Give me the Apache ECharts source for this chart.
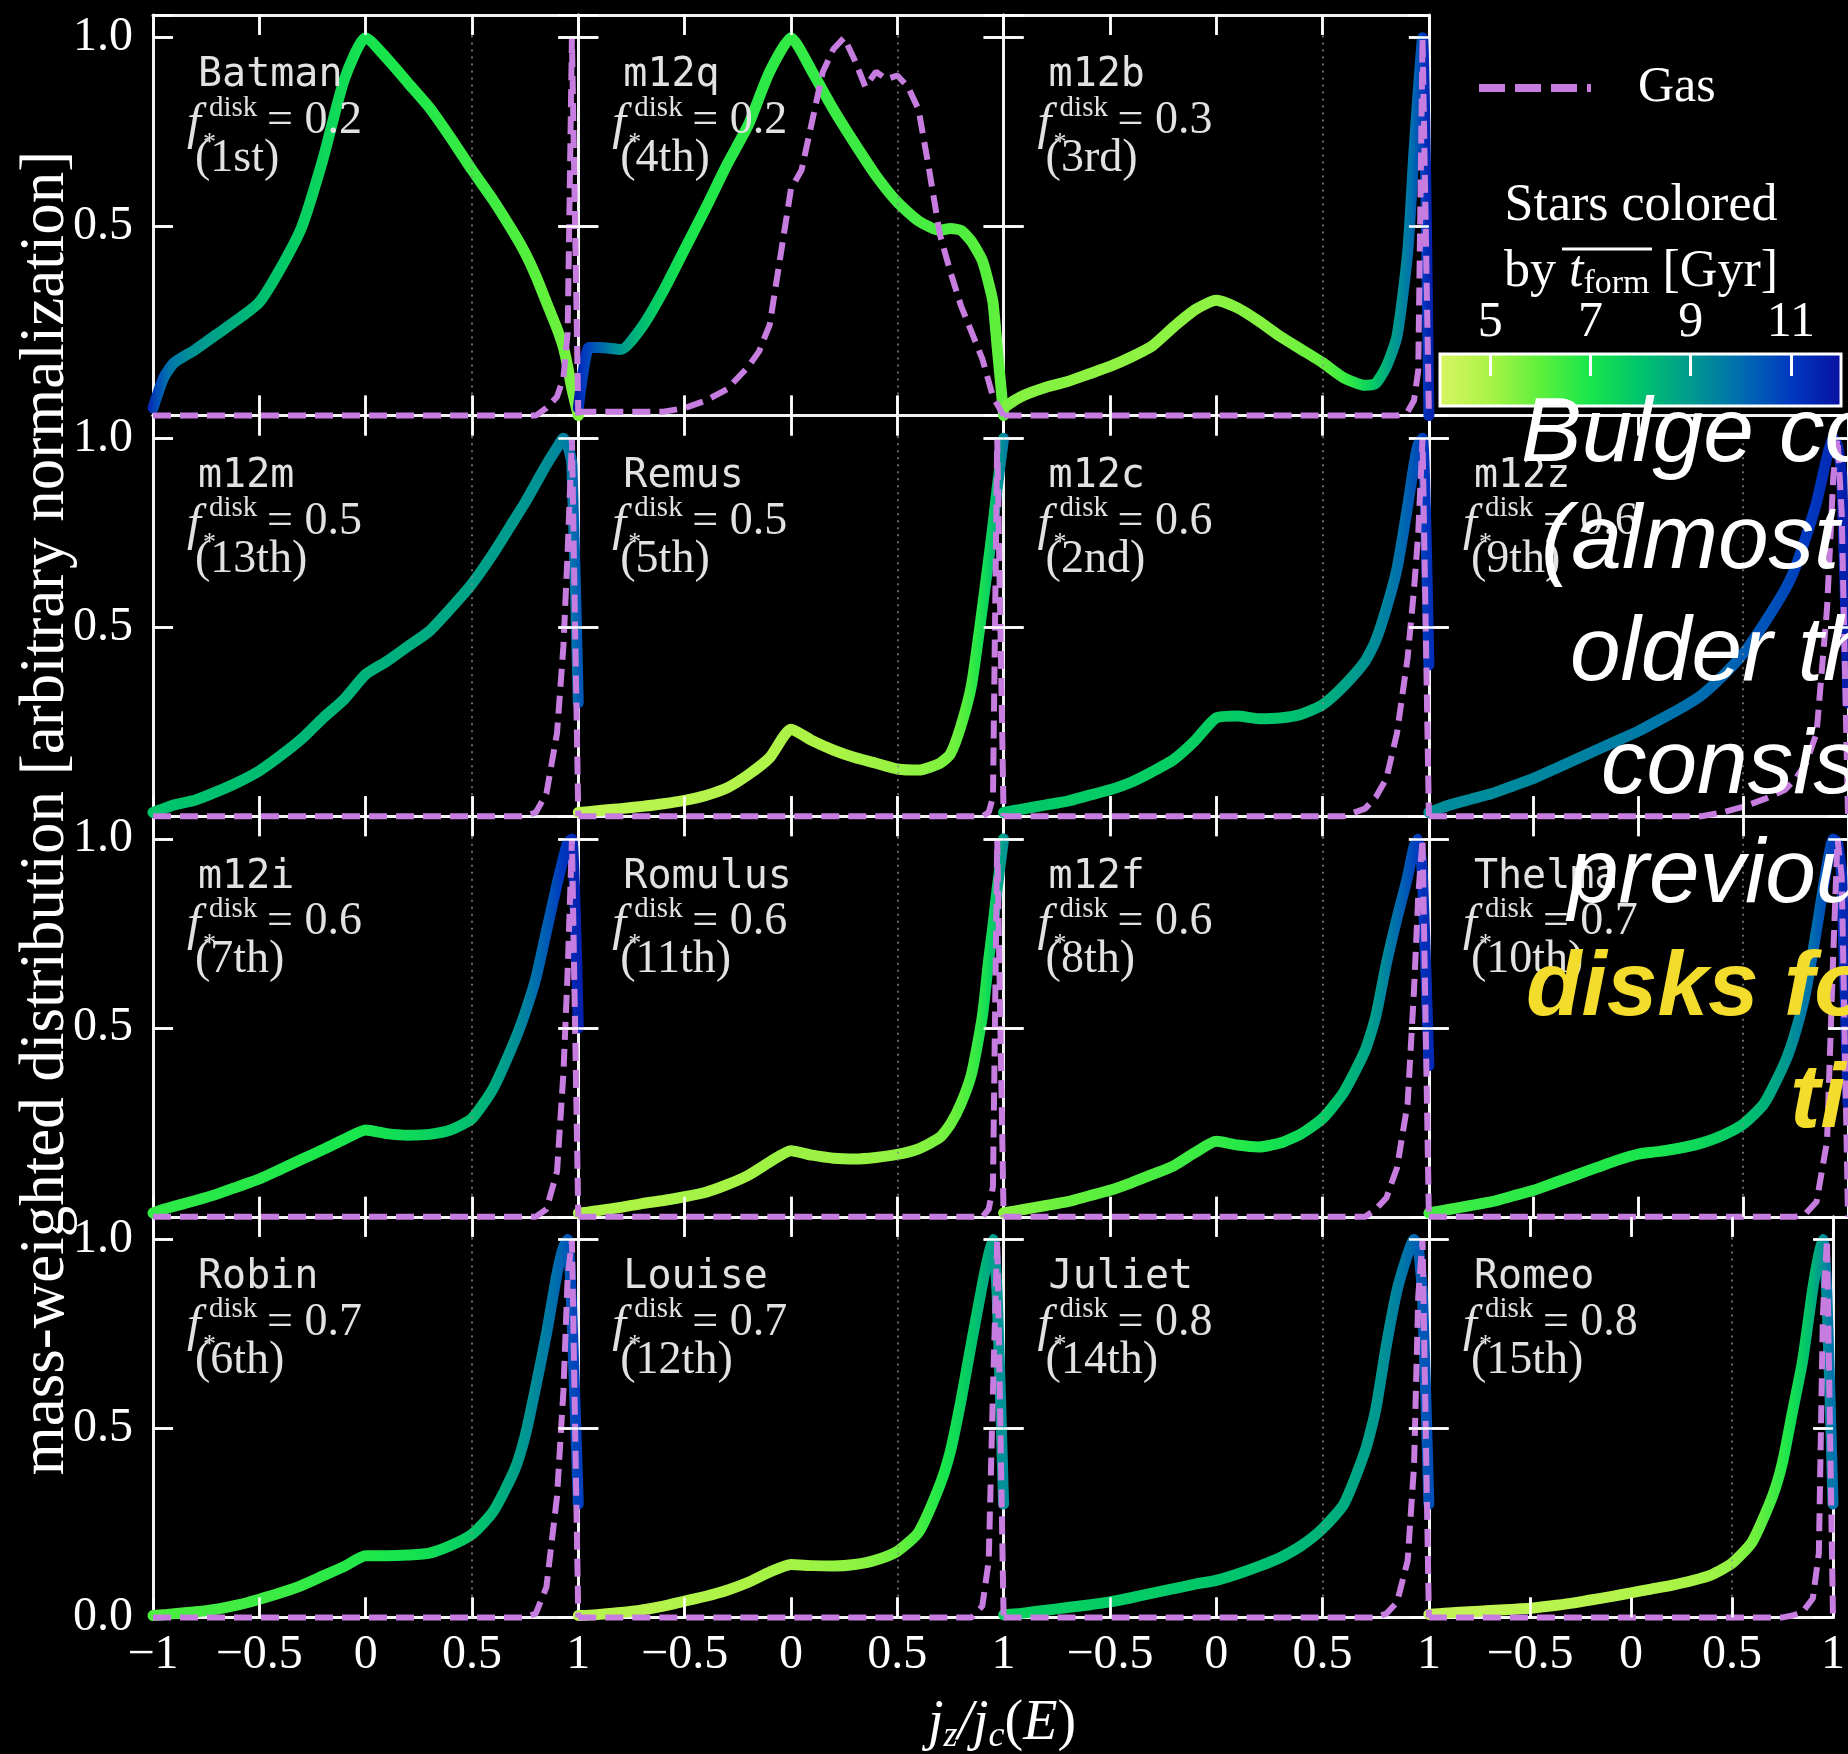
<!DOCTYPE html>
<html><head><meta charset="utf-8">
<script src="https://cdn.jsdelivr.net/npm/echarts@6/dist/echarts.min.js"></script>
<style>html,body{margin:0;padding:0;background:#000;overflow:hidden}#c{width:1848px;height:1754px}</style>
</head><body><div id="c"></div>
<script>
// ---------------- data ----------------
const jz = [-1, -0.95, -0.9, -0.8, -0.7, -0.6, -0.5, -0.4, -0.3, -0.2, -0.1, 0, 0.1, 0.2, 0.3, 0.4, 0.5, 0.6, 0.7, 0.75, 0.8, 0.85, 0.9, 0.93, 0.95, 0.97, 1.0];
const galaxyNames = ['Batman','m12q','m12b','m12m','Remus','m12c','m12z','m12i','Romulus','m12f','Thelma','Robin','Louise','Juliet','Romeo'];
const diskFractions = ['0.2','0.2','0.3','0.5','0.5','0.6','0.6','0.6','0.6','0.6','0.7','0.7','0.7','0.8','0.8'];
const diskRanks = ['1st','4th','3rd','13th','5th','2nd','9th','7th','11th','8th','10th','6th','12th','14th','15th'];

const starsBatman  = [0.02,0.10,0.14,0.175,0.215,0.255,0.30,0.39,0.50,0.68,0.89,1.0,0.945,0.88,0.815,0.735,0.65,0.57,0.48,0.43,0.37,0.30,0.23,0.18,0.13,0.07,0.0];
const starsM12q    = [0.02,0.18,0.18,0.175,0.235,0.33,0.44,0.55,0.665,0.77,0.91,1.0,0.91,0.81,0.72,0.635,0.565,0.515,0.49,0.495,0.49,0.46,0.41,0.35,0.30,0.18,0.0];
const starsM12b    = [0.02,0.04,0.055,0.075,0.09,0.11,0.13,0.155,0.185,0.235,0.28,0.305,0.285,0.25,0.21,0.175,0.14,0.10,0.08,0.085,0.13,0.21,0.43,0.70,0.86,1.0,0.0];
const starsM12m    = [0.01,0.02,0.03,0.043,0.065,0.09,0.12,0.16,0.205,0.26,0.31,0.375,0.41,0.45,0.49,0.55,0.615,0.695,0.785,0.83,0.88,0.93,0.975,1.0,0.98,0.93,0.3];
const starsRemus   = [0.01,0.012,0.015,0.02,0.026,0.033,0.042,0.055,0.075,0.11,0.155,0.23,0.20,0.175,0.155,0.14,0.125,0.122,0.14,0.165,0.24,0.35,0.55,0.68,0.77,0.87,1.0];
const starsM12c    = [0.01,0.015,0.02,0.03,0.04,0.055,0.07,0.09,0.118,0.15,0.20,0.26,0.265,0.258,0.26,0.27,0.295,0.345,0.41,0.465,0.55,0.655,0.82,0.93,0.985,1.0,0.4];
const starsM12z    = [0.01,0.02,0.03,0.045,0.06,0.08,0.10,0.125,0.15,0.175,0.20,0.225,0.255,0.285,0.32,0.37,0.43,0.51,0.60,0.66,0.74,0.83,0.95,1.0,0.98,0.9,0.3];
const starsM12i    = [0.01,0.02,0.028,0.043,0.06,0.08,0.10,0.126,0.152,0.178,0.205,0.23,0.22,0.216,0.218,0.23,0.26,0.34,0.465,0.54,0.63,0.755,0.88,0.95,0.99,1.0,0.5];
const starsRomulus = [0.01,0.013,0.017,0.025,0.035,0.043,0.053,0.065,0.085,0.11,0.145,0.175,0.163,0.155,0.153,0.157,0.165,0.18,0.21,0.245,0.30,0.38,0.53,0.68,0.77,0.87,1.0];
const starsM12f    = [0.01,0.015,0.02,0.03,0.04,0.055,0.07,0.09,0.112,0.135,0.17,0.20,0.19,0.185,0.195,0.22,0.26,0.33,0.44,0.53,0.67,0.79,0.90,0.98,1.0,0.9,0.4];
const starsThelma  = [0.01,0.015,0.02,0.03,0.04,0.055,0.07,0.09,0.11,0.13,0.15,0.166,0.173,0.182,0.195,0.215,0.245,0.30,0.41,0.49,0.60,0.76,0.93,1.0,0.99,0.9,0.3];
const starsRobin   = [0.005,0.007,0.01,0.015,0.022,0.033,0.048,0.065,0.085,0.11,0.135,0.163,0.163,0.165,0.17,0.19,0.22,0.28,0.39,0.48,0.61,0.75,0.91,0.98,1.0,0.8,0.3];
const starsLouise  = [0.005,0.006,0.008,0.013,0.02,0.03,0.043,0.056,0.072,0.093,0.12,0.14,0.137,0.136,0.14,0.152,0.175,0.225,0.35,0.44,0.575,0.73,0.88,0.96,1.0,0.85,0.3];
const starsJuliet  = [0.007,0.009,0.012,0.019,0.026,0.033,0.041,0.052,0.064,0.076,0.088,0.098,0.115,0.135,0.158,0.19,0.235,0.30,0.44,0.55,0.72,0.865,0.96,1.0,0.98,0.85,0.3];
const starsRomeo   = [0.008,0.01,0.012,0.015,0.018,0.021,0.024,0.03,0.037,0.046,0.055,0.065,0.075,0.085,0.097,0.113,0.143,0.20,0.32,0.41,0.545,0.68,0.87,0.96,1.0,0.85,0.3];

// mean stellar formation time [Gyr] along each curve
const tformBatman  = [11.5,10.5,9.8,9.2,8.8,8.5,8.2,7.9,7.7,7.5,7.3,7.1,7.0,6.9,6.8,6.6,6.5,6.4,6.2,6.1,6.0,5.9,5.8,5.7,5.6,5.5,5.5];
const tformM12q    = [11.8,11.0,10.4,9.2,8.3,7.6,7.1,6.9,6.8,6.7,6.7,6.6,6.6,6.5,6.5,6.4,6.4,6.3,6.3,6.2,6.2,6.1,6.1,6.0,6.0,6.0,6.0];
const tformM12b    = [5.6,5.6,5.5,5.5,5.5,5.4,5.4,5.4,5.4,5.4,5.4,5.4,5.5,5.5,5.6,5.8,6.0,6.6,7.6,8.2,8.8,9.4,10.0,10.6,11.0,11.4,11.6];
const tformM12m    = [7.9,7.9,8.0,8.0,8.1,8.1,8.2,8.2,8.3,8.3,8.4,8.4,8.5,8.5,8.6,8.7,8.8,8.9,9.0,9.1,9.2,9.3,9.5,9.7,9.9,10.2,10.5];
const tformRemus   = [4.6,4.6,4.6,4.7,4.7,4.7,4.8,4.8,4.8,4.9,4.9,5.0,5.0,5.0,5.1,5.2,5.3,5.4,5.6,5.8,6.2,6.8,7.5,8.2,8.8,9.3,9.8];
const tformM12c    = [8.0,8.0,7.9,7.9,7.8,7.8,7.8,7.8,7.7,7.7,7.7,7.7,7.8,7.9,8.0,8.2,8.5,8.8,9.2,9.4,9.7,10.0,10.4,10.7,10.9,11.1,11.3];
const tformM12z    = [9.2,9.2,9.3,9.3,9.3,9.4,9.4,9.5,9.5,9.6,9.6,9.7,9.8,9.9,10.0,10.1,10.3,10.5,10.7,10.9,11.0,11.2,11.4,11.5,11.6,11.7,11.8];
const tformM12i    = [6.6,6.6,6.7,6.7,6.8,6.8,6.8,6.9,6.9,7.0,7.0,7.0,7.2,7.4,7.6,7.9,8.2,8.7,9.3,9.7,10.1,10.5,11.0,11.2,11.4,11.5,11.6];
const tformRomulus = [5.0,5.0,5.0,5.0,5.0,5.0,5.1,5.1,5.1,5.1,5.2,5.2,5.2,5.2,5.3,5.3,5.4,5.5,5.7,5.9,6.2,6.6,7.3,7.9,8.4,8.9,9.3];
const tformM12f    = [5.4,5.5,5.6,5.7,5.9,6.0,6.1,6.2,6.3,6.4,6.5,6.6,6.8,7.0,7.2,7.5,7.8,8.3,8.8,9.2,9.7,10.2,10.7,11.0,11.2,11.3,11.4];
const tformThelma  = [6.3,6.4,6.4,6.5,6.6,6.7,6.7,6.8,6.8,6.9,6.9,7.0,7.1,7.3,7.5,7.7,8.0,8.5,9.1,9.5,9.9,10.4,10.9,11.2,11.4,11.5,11.6];
const tformRobin   = [6.2,6.2,6.3,6.3,6.4,6.4,6.5,6.5,6.6,6.7,6.8,6.9,7.0,7.1,7.3,7.6,7.9,8.4,8.9,9.2,9.5,9.8,10.2,10.5,10.7,10.8,10.9];
const tformLouise  = [4.7,4.7,4.7,4.8,4.8,4.8,4.9,4.9,5.0,5.0,5.1,5.1,5.2,5.3,5.4,5.6,5.9,6.4,7.0,7.3,7.7,8.1,8.6,8.9,9.1,9.2,9.3];
const tformJuliet  = [7.6,7.6,7.6,7.7,7.7,7.7,7.8,7.8,7.8,7.9,7.9,8.0,8.0,8.1,8.2,8.3,8.4,8.6,8.9,9.1,9.4,9.7,10.1,10.3,10.4,10.5,10.6];
const tformRomeo   = [4.4,4.4,4.5,4.5,4.5,4.6,4.6,4.7,4.7,4.8,4.8,4.9,4.9,5.0,5.1,5.2,5.4,5.8,6.5,6.9,7.4,8.0,8.8,9.3,9.6,9.8,10.0];

const gasBatman  = [0,0,0,0,0,0,0,0,0,0,0,0,0,0,0,0,0,0,0,0,0,0.02,0.05,0.1,0.22,1.0,0];
const gasJzM12q  = [-1,-0.6,-0.5,-0.4,-0.3,-0.2,-0.15,-0.1,-0.05,0,0.05,0.1,0.15,0.2,0.25,0.3,0.35,0.4,0.45,0.5,0.55,0.6,0.65,0.7,0.75,0.8,0.85,0.9,0.95,1.0];
const gasM12q    = [0.01,0.01,0.02,0.04,0.07,0.13,0.17,0.24,0.42,0.60,0.65,0.78,0.91,0.97,1.0,0.94,0.87,0.91,0.89,0.90,0.87,0.81,0.65,0.48,0.38,0.29,0.22,0.15,0.05,0.0];
const gasM12b    = [0,0,0,0,0,0,0,0,0,0,0,0,0,0,0,0,0,0,0,0,0,0,0.01,0.04,0.12,1.0,0];
const gasM12m    = [0,0,0,0,0,0,0,0,0,0,0,0,0,0,0,0,0,0,0,0,0.01,0.06,0.22,0.45,0.7,1.0,0];
const gasRemus   = [0,0,0,0,0,0,0,0,0,0,0,0,0,0,0,0,0,0,0,0,0,0,0,0.01,0.05,1.0,0];
const gasM12c    = [0,0,0,0,0,0,0,0,0,0,0,0,0,0,0,0,0,0,0.02,0.05,0.10,0.22,0.42,0.6,0.75,1.0,0];
const gasM12z    = [0,0,0,0,0,0,0,0,0,0,0,0,0,0,0,0.01,0.025,0.045,0.07,0.1,0.14,0.22,0.55,0.9,1.0,0.8,0];
const gasM12i    = [0,0,0,0,0,0,0,0,0,0,0,0,0,0,0,0,0,0,0,0,0,0.02,0.12,0.38,0.65,1.0,0];
const gasRomulus = [0,0,0,0,0,0,0,0,0,0,0,0,0,0,0,0,0,0,0,0,0,0,0,0.02,0.08,1.0,0];
const gasM12f    = [0,0,0,0,0,0,0,0,0,0,0,0,0,0,0,0,0,0,0,0.02,0.05,0.13,0.30,0.6,0.85,1.0,0];
const gasThelma  = [0,0,0,0,0,0,0,0,0,0,0,0,0,0,0,0,0,0,0,0,0.01,0.04,0.2,0.7,1.0,0.9,0];
const gasRobin   = [0,0,0,0,0,0,0,0,0,0,0,0,0,0,0,0,0,0,0,0,0.01,0.08,0.32,0.6,0.9,1.0,0];
const gasLouise  = [0,0,0,0,0,0,0,0,0,0,0,0,0,0,0,0,0,0,0,0,0,0,0.03,0.15,0.6,1.0,0];
const gasJuliet  = [0,0,0,0,0,0,0,0,0,0,0,0,0,0,0,0,0,0,0,0,0.01,0.04,0.15,0.4,0.85,1.0,0];
const gasRomeo   = [0,0,0,0,0,0,0,0,0,0,0,0,0,0,0,0,0,0,0,0,0.005,0.015,0.05,0.17,0.8,1.0,0];

const xTickValues = [-1, -0.5, 0, 0.5, 1];
const yTickValues = [0, 0.5, 1.0];
const xInnerTicks = [-0.5, 0, 0.5];
const yInnerTicks = [0.5, 1.0];
const colorbarRange = [4, 12];
const colorbarTicks = [5, 7, 9, 11];

// ---------------- styling / layout ----------------
const cmapStops = [[4,'#d8f562'],[5,'#acf346'],[6,'#5ef03c'],[7,'#18e64c'],[8,'#00c46c'],[9,'#009a90'],[10,'#006cb0'],[11,'#0038c0'],[12,'#0a10a0']];
function hexRgb(h){return [parseInt(h.slice(1,3),16),parseInt(h.slice(3,5),16),parseInt(h.slice(5,7),16)];}
function cmap(t){
  t = Math.max(cmapStops[0][0], Math.min(cmapStops[cmapStops.length-1][0], t));
  for (let k=0;k<cmapStops.length-1;k++){
    const [a,ca]=cmapStops[k],[b,cb]=cmapStops[k+1];
    if (t<=b){const f=(t-a)/(b-a);const A=hexRgb(ca),B=hexRgb(cb);
      return 'rgb('+A.map((v,i)=>Math.round(v+(B[i]-v)*f)).join(',')+')';}
  }
  return cmapStops[cmapStops.length-1][1];
}

const starsList = [starsBatman,starsM12q,starsM12b,starsM12m,starsRemus,starsM12c,starsM12z,starsM12i,starsRomulus,starsM12f,starsThelma,starsRobin,starsLouise,starsJuliet,starsRomeo];
const tformList = [tformBatman,tformM12q,tformM12b,tformM12m,tformRemus,tformM12c,tformM12z,tformM12i,tformRomulus,tformM12f,tformThelma,tformRobin,tformLouise,tformJuliet,tformRomeo];
const gasList = [gasBatman,gasM12q,gasM12b,gasM12m,gasRemus,gasM12c,gasM12z,gasM12i,gasRomulus,gasM12f,gasThelma,gasRobin,gasLouise,gasJuliet,gasRomeo];

const L0=153, T0=15, CW=425.3, CH=400.6;
const Y_MAX = 1.06;
const TICK_PX = 20;
const tickDy = TICK_PX/CH*Y_MAX, tickDx = TICK_PX/CW*2;   // tick length in data units
const SERIF='"Liberation Serif", "DejaVu Serif", serif';
const GAS_COLOR='#c77ddf';
const FRAME='#f2f2f2';
const tickFont = 48;
function fmtX(v){ if (v<0) return '\u2212'+String(Math.abs(v)); return String(v); }
function mkTick(){ return {show:true, inside:true, length:TICK_PX, lineStyle:{color:'#ffffff', width:2.5}}; }
function mkLine(){ return {show:true, onZero:false, lineStyle:{color:FRAME, width:3}}; }

// frame ticks drawn as short marker segments in data coordinates
const tickStyle = {type:'solid', color:'#ffffff', width:2.5};
function frameTicks(){
  const segs = [];
  xInnerTicks.forEach(x=>{
    segs.push([{coord:[x,0], lineStyle:tickStyle},{coord:[x,tickDy]}]);
    segs.push([{coord:[x,Y_MAX], lineStyle:tickStyle},{coord:[x,Y_MAX-tickDy]}]);
  });
  yInnerTicks.forEach(y=>{
    segs.push([{coord:[-1,y], lineStyle:tickStyle},{coord:[-1+tickDx,y]}]);
    segs.push([{coord:[1,y], lineStyle:tickStyle},{coord:[1-tickDx,y]}]);
  });
  return segs;
}

const grids=[], xAxes=[], yAxes=[], series=[], graphics=[];
galaxyNames.forEach((name,i)=>{
  const idx = i<3 ? i : i+1;           // first row has 3 panels
  const row = Math.floor(idx/4), col = idx%4;
  const L = L0+col*CW, T = T0+row*CH;
  grids.push({left:L, top:T, width:CW, height:CH, show:false});
  const lblStyle = {color:'#ffffff', fontFamily:SERIF, fontSize:tickFont};
  xAxes.push({gridIndex:i, type:'value', min:-1, max:1, interval:0.5, position:'bottom',
    axisLine:mkLine(), splitLine:{show:false}, axisTick:mkTick(),
    axisLabel: row===3 ? Object.assign({show:true, margin:14, formatter:fmtX, hideOverlap:false,
        customValues: col===0 ? xTickValues : xTickValues.slice(1)}, lblStyle) : {show:false}});
  xAxes.push({gridIndex:i, type:'value', min:-1, max:1, interval:0.5, position:'top',
    axisLine:mkLine(), splitLine:{show:false}, axisTick:mkTick(), axisLabel:{show:false}});
  yAxes.push({gridIndex:i, type:'value', min:0, max:Y_MAX, interval:0.5, position:'left',
    axisLine:mkLine(), splitLine:{show:false}, axisTick:mkTick(),
    axisLabel: col===0 ? Object.assign({show:true, margin:20, hideOverlap:false, formatter:v=>v.toFixed(1),
        customValues: row===3 ? yTickValues : yTickValues.slice(1)}, lblStyle) : {show:false}});
  yAxes.push({gridIndex:i, type:'value', min:0, max:Y_MAX, interval:0.5, position:'right',
    axisLine:mkLine(), splitLine:{show:false}, axisTick:mkTick(), axisLabel:{show:false}});

  const st = starsList[i], tf = tformList[i];
  const stops = jz.map((x,k)=>({offset:(x+1)/2, color:cmap(tf[k])}));
  series.push({type:'line', name:name+' stars', xAxisIndex:2*i, yAxisIndex:2*i, symbol:'none', clip:false, silent:true,
    smooth:0.2, z:3,
    data: jz.map((x,k)=>[x, st[k]]),
    lineStyle:{width:11, cap:'round', join:'round', color:{type:'linear', x:0, y:0, x2:1, y2:0, colorStops:stops}},
    markLine:{silent:true, symbol:'none', label:{show:false}, animation:false,
      lineStyle:{type:[2,5], color:'#8a8a8a', width:1.5},
      data:[{xAxis:0.5}].concat(frameTicks())}});
  const gx = (name==='m12q') ? gasJzM12q : jz;
  const g = gasList[i];
  series.push({type:'line', name:'Gas', xAxisIndex:2*i, yAxisIndex:2*i, symbol:'none', clip:false, silent:true, z:4,
    data: gx.map((x,k)=>[x, g[k]]),
    lineStyle:{width:6, color:GAS_COLOR, type:[18,9]}, itemStyle:{color:GAS_COLOR}});

  // panel annotation
  const fg='#e2e2e2';
  graphics.push({type:'text', x:L+45, y:T+61, z:20, style:{text:name, font:'40px "DejaVu Sans Mono", monospace', fill:fg, verticalAlign:'middle', textVerticalAlign:'middle'}});
  graphics.push({type:'text', x:L+34, y:T+110, z:20, style:{text:'f', font:'italic 50px '+SERIF, fill:fg, verticalAlign:'middle', textVerticalAlign:'middle'}});
  graphics.push({type:'text', x:L+56, y:T+93, z:20, style:{text:'disk', font:'29px '+SERIF, fill:fg, verticalAlign:'middle', textVerticalAlign:'middle'}});
  graphics.push({type:'text', x:L+50, y:T+128, z:20, style:{text:'*', font:'26px '+SERIF, fill:fg, verticalAlign:'middle', textVerticalAlign:'middle'}});
  graphics.push({type:'text', x:L+114, y:T+106, z:20, style:{text:'= '+diskFractions[i], font:'46px '+SERIF, fill:fg, verticalAlign:'middle', textVerticalAlign:'middle'}});
  graphics.push({type:'text', x:L+42, y:T+144, z:20, style:{text:'('+diskRanks[i]+')', font:'46px '+SERIF, fill:fg, verticalAlign:'middle', textVerticalAlign:'middle'}});
});

// colorbar axis
const CB = {x:1440, y:354, w:401, h:52};
const cbIndex = galaxyNames.length;
grids.push({left:CB.x, top:CB.y, width:CB.w, height:CB.h, show:false});
xAxes.push({gridIndex:cbIndex, type:'value', min:colorbarRange[0], max:colorbarRange[1], position:'top', z:10,
  axisLine:{show:false, onZero:false}, splitLine:{show:false},
  axisTick:{show:true, inside:true, length:22, customValues:colorbarTicks, lineStyle:{color:'#fff', width:3}},
  axisLabel:{show:true, customValues:colorbarTicks, margin:6, color:'#fff', fontFamily:SERIF, fontSize:50, hideOverlap:false}});
yAxes.push({gridIndex:cbIndex, type:'value', min:0, max:1, show:false});
graphics.push({type:'rect', z:1, shape:{x:CB.x, y:CB.y, width:CB.w, height:CB.h},
  style:{fill:{type:'linear', x:0, y:0, x2:1, y2:0, colorStops:cmapStops.map(([v,c])=>({offset:(v-colorbarRange[0])/(colorbarRange[1]-colorbarRange[0]), color:c}))},
  stroke:'#ffffff', lineWidth:3}});

// legend (Gas)
graphics.push({type:'line', z:20, shape:{x1:1479, y1:88, x2:1591, y2:88}, style:{stroke:GAS_COLOR, lineWidth:8, lineDash:[26,10]}});
graphics.push({type:'text', x:1638, y:88, z:20, style:{text:'Gas', font:'50px '+SERIF, fill:'#fff', verticalAlign:'middle', textVerticalAlign:'middle'}});
// colorbar title
graphics.push({type:'text', x:1641, y:206, z:20, style:{text:'Stars colored', font:'52px '+SERIF, fill:'#fff', align:'center', textAlign:'center', verticalAlign:'middle', textVerticalAlign:'middle'}});
graphics.push({type:'text', x:1641, y:272, z:20, style:{text:'{r|by }{i|t}{s|form}{r| [Gyr]}', align:'center', textAlign:'center', verticalAlign:'middle', textVerticalAlign:'middle',
  rich:{r:{font:'52px '+SERIF, fill:'#fff', color:'#fff'}, i:{font:'italic 52px '+SERIF, fill:'#fff', color:'#fff'}, s:{font:'34px '+SERIF, fill:'#fff', color:'#fff', padding:[24,0,0,0]}}}});
graphics.push({type:'line', z:20, shape:{x1:1562, y1:249, x2:1652, y2:249}, style:{stroke:'#fff', lineWidth:3}});

// axis titles
graphics.push({type:'text', x:46, y:813, rotation:Math.PI/2, z:20, style:{text:'mass-weighted distribution [arbitrary normalization]', font:'63px '+SERIF, fill:'#fff', align:'center', textAlign:'center', verticalAlign:'middle', textVerticalAlign:'middle'}});
graphics.push({type:'text', x:1002, y:1724, z:20, style:{text:'{i|j}{s|z}{i|/j}{s|c}{r|(}{i|E}{r|)}', align:'center', textAlign:'center', verticalAlign:'middle', textVerticalAlign:'middle',
  rich:{i:{font:'italic 56px '+SERIF, fill:'#fff', color:'#fff'}, r:{font:'56px '+SERIF, fill:'#fff', color:'#fff'}, s:{font:'italic 36px '+SERIF, fill:'#fff', color:'#fff', padding:[26,0,0,0]}}}});

// overlay slide text
const overlay = [
  ['Bulge co',1521,436,false],['(almost',1541,543,false],['older th',1570,655,false],['consis',1601,768,false],
  ['previou',1568,877,false],['disks fo',1526,990,true],['ti',1790,1102,true]];
overlay.forEach(([t,x,y,yel])=>{
  graphics.push({type:'text', x:x, y:y, z:50, style:{text:t, font:(yel?'italic bold ':'italic ')+'91px "Liberation Sans", Arial, sans-serif', fill:yel?'#f3dc2c':'#ffffff', verticalAlign:'middle', textVerticalAlign:'middle'}});
});

const chart = echarts.init(document.getElementById('c'), null, {renderer:'canvas'});
chart.setOption({
  backgroundColor:'#000000',
  animation:false,
  grid:grids, xAxis:xAxes, yAxis:yAxes, series:series,
  graphic:{elements:graphics}
});
</script></body></html>
